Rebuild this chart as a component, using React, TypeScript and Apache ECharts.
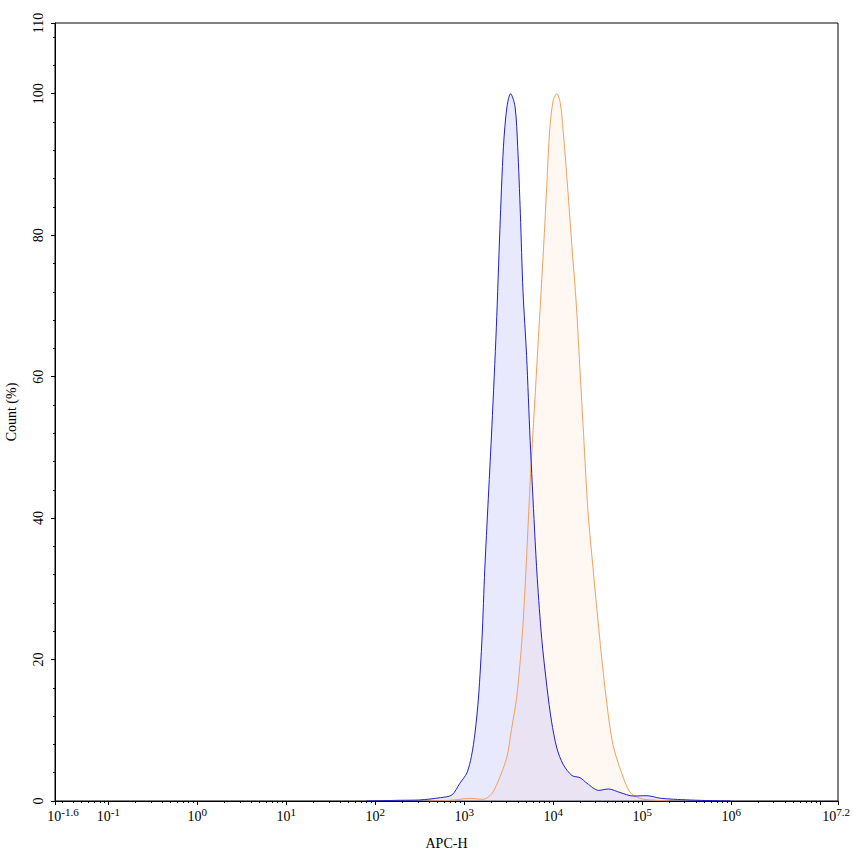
import React, { useEffect, useRef } from 'react';
import * as echarts from 'echarts';

// x values are log10(APC-H), y values are Count (%)
const blueLog = [1.9, 2.28, 2.5, 2.73, 2.86, 2.95, 3.03, 3.08, 3.12, 3.16, 3.2, 3.23, 3.31, 3.36, 3.4, 3.44, 3.48, 3.52, 3.57, 3.6, 3.63, 3.66, 3.7, 3.74, 3.79, 3.82, 3.87, 3.93, 3.98, 4.04, 4.11, 4.21, 4.3, 4.38, 4.51, 4.62, 4.75, 4.9, 5.05, 5.2, 5.35, 5.54, 5.71, 5.87, 6.0];
const blueCount = [0, 0.1, 0.15, 0.47, 0.85, 2.5, 4.0, 6.3, 9.6, 14.7, 23.2, 32.7, 52.9, 66.9, 80.8, 92.5, 98.2, 100, 98.2, 92.5, 83.1, 72, 63, 51, 38.3, 31.5, 23.0, 16.0, 11.3, 7.5, 5.2, 3.6, 3.3, 2.5, 1.5, 1.7, 1.2, 0.7, 0.75, 0.4, 0.25, 0.14, 0.07, 0.03, 0];

const orangeLog = [2.6, 2.88, 3.06, 3.21, 3.31, 3.4, 3.48, 3.53, 3.59, 3.65, 3.69, 3.74, 3.79, 3.84, 3.89, 3.93, 3.96, 4.0, 4.04, 4.08, 4.11, 4.15, 4.21, 4.26, 4.3, 4.34, 4.39, 4.45, 4.53, 4.6, 4.67, 4.77, 4.86, 4.97, 5.12, 5.3];
const orangeCount = [0, 0.14, 0.38, 0.24, 1.04, 3.4, 6.3, 10.1, 14.8, 23.2, 31.9, 45, 56, 67, 78, 87.8, 94.9, 99.1, 100, 98.6, 94.9, 88.7, 78.4, 70, 61, 52, 41, 32.5, 22, 14, 8, 3.9, 1.3, 0.38, 0.14, 0];

// axis ticks
const xMajorTicks = [-1.6, -1, 0, 1, 2, 3, 4, 5, 6, 7, 7.2];
const xTickLabels = [-1.6, -1, 0, 1, 2, 3, 4, 5, 6, 7.2];
const xDecades = [-2, -1, 0, 1, 2, 3, 4, 5, 6, 7];
const yMajorTicks = [0, 20, 40, 60, 80, 100, 110];
const yMinorTicks = [4, 8, 12, 16, 24, 28, 32, 36, 44, 48, 52, 56, 64, 68, 72, 76, 84, 88, 92, 96, 104, 108];

const FONT = 'Liberation Serif';

const zip = (xs: number[], ys: number[]) => xs.map((x, i) => [x, ys[i]]);

export default function App() {
  const chartRef = useRef<HTMLDivElement>(null);

  useEffect(() => {
    if (!chartRef.current) return;
    const chart = echarts.init(chartRef.current, null, { renderer: 'svg' });

    // log-spaced minor ticks (2..9 in every decade)
    const xMinorTicks: number[] = [];
    xDecades.forEach(d => {
      for (let k = 2; k <= 9; k++) {
        const v = d + Math.log10(k);
        if (v > -1.6 && v < 7.2) xMinorTicks.push(v);
      }
    });

    const richBase = { fontSize: 14, fontFamily: FONT, color: '#000' };
    const richSup = { fontSize: 11, fontFamily: FONT, color: '#000', padding: [0, 0, 9, 0] };

    const option = {
      animation: false,
      grid: {
        left: 55,
        right: 15,
        top: 23,
        bottom: 55,
        containLabel: false,
        outerBoundsMode: 'none',
        show: true,
        borderColor: '#000',
        borderWidth: 1,
        backgroundColor: 'transparent',
      },
      xAxis: [
        {
          type: 'value',
          min: -1.6,
          max: 7.2,
          position: 'bottom',
          name: 'APC-H',
          nameLocation: 'middle',
          nameGap: 35,
          nameTextStyle: { fontFamily: FONT, fontSize: 14, color: '#000' },
          axisLine: { onZero: false, lineStyle: { color: '#000', width: 1 } },
          axisTick: { customValues: xMajorTicks, length: 4, lineStyle: { color: '#000' } },
          axisLabel: {
            customValues: xTickLabels,
            margin: 5,
            hideOverlap: false,
            formatter: (v: number) => {
              if (v === -1.6) return `{bl|10}{s|${v}}`;
              if (v === 7.2) return `{b|10}{sr|${v}}`;
              return `{b|10}{s|${v}}`;
            },
            rich: {
              b: richBase,
              bl: { ...richBase, padding: [0, 0, 0, 16] },
              s: richSup,
              sr: { ...richSup, padding: [0, 4, 9, 0] },
            },
          },
          splitLine: { show: false },
        },
        {
          type: 'value',
          min: -1.6,
          max: 7.2,
          position: 'bottom',
          axisLine: { show: false, onZero: false },
          axisTick: { customValues: xMinorTicks, length: 2, lineStyle: { color: '#000' } },
          axisLabel: { show: false },
          splitLine: { show: false },
        },
      ],
      yAxis: [
        {
          type: 'value',
          min: 0,
          max: 110,
          position: 'left',
          name: 'Count (%)',
          nameLocation: 'middle',
          nameGap: 37,
          nameTextStyle: { fontFamily: FONT, fontSize: 14, color: '#000' },
          axisLine: { show: true, onZero: false, lineStyle: { color: '#000', width: 1 } },
          axisTick: { show: true, customValues: yMajorTicks, length: 4, lineStyle: { color: '#000' } },
          axisLabel: {
            customValues: yMajorTicks,
            rotate: 90,
            margin: 10,
            fontFamily: FONT,
            fontSize: 14,
            color: '#000',
          },
          splitLine: { show: false },
        },
        {
          type: 'value',
          min: 0,
          max: 110,
          position: 'left',
          axisLine: { show: false, onZero: false },
          axisTick: { show: true, customValues: yMinorTicks, length: 2, lineStyle: { color: '#000' } },
          axisLabel: { show: false },
          splitLine: { show: false },
        },
      ],
      series: [
        {
          name: 'orange',
          type: 'line',
          xAxisIndex: 0,
          yAxisIndex: 0,
          data: zip(orangeLog, orangeCount),
          smooth: 0.3,
          showSymbol: false,
          lineStyle: { color: '#f0a060', width: 1 },
          areaStyle: { color: 'rgba(255,222,192,0.3)' },
        },
        {
          name: 'blue',
          type: 'line',
          xAxisIndex: 0,
          yAxisIndex: 0,
          data: zip(blueLog, blueCount),
          smooth: 0.3,
          showSymbol: false,
          lineStyle: { color: '#2020cc', width: 1 },
          areaStyle: { color: 'rgba(165,165,245,0.34)' },
        },
      ],
    };

    chart.setOption(option as any);
    return () => chart.dispose();
  }, []);

  return (
    <div
      ref={chartRef}
      style={{ position: 'absolute', left: 0, top: 0, width: 853, height: 856, background: '#fff' }}
    />
  );
}
